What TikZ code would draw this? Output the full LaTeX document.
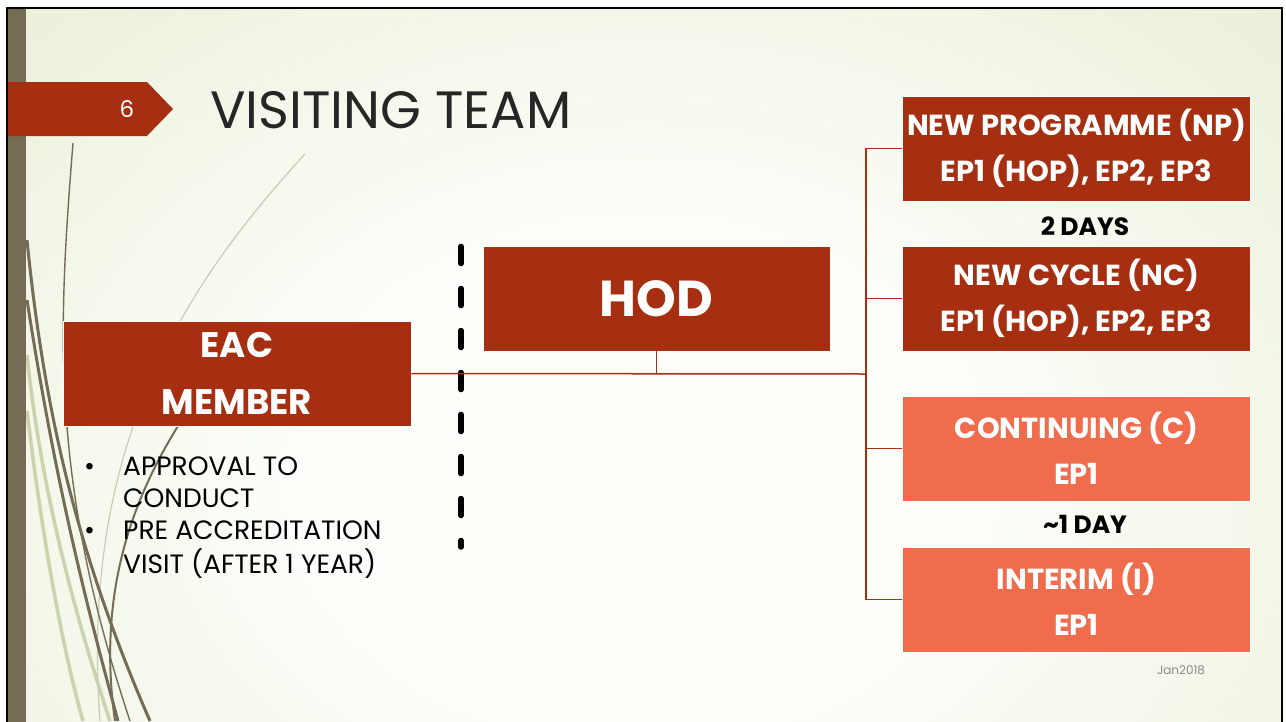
\documentclass[tikz,border=0pt]{standalone}
\usepackage{fontspec}
\setmainfont{Poppins}
\definecolor{hodred}{HTML}{A52F10}
\definecolor{salmon}{HTML}{EF6C4C}
\definecolor{barbrown}{HTML}{756C55}
\definecolor{bgout}{HTML}{DCE5C1}
\definecolor{bgin}{HTML}{FDFEFA}
\definecolor{paleline}{HTML}{CAD3AC}
\definecolor{grayline}{HTML}{C8CCB4}
\definecolor{titlegray}{HTML}{262626}
\definecolor{dategray}{HTML}{8C8C8C}
\pgfdeclareradialshading{bgshade}{\pgfpoint{0bp}{0bp}}{color(0bp)=(bgin); color(12bp)=(bgin); color(48bp)=(bgout)}
\tikzset{
  box/.style={rectangle, draw=white, line width=0.8pt, inner sep=0pt,
    minimum width=348pt, minimum height=105pt, text=white, align=center},
  darkbox/.style={box, fill=hodred},
  lightbox/.style={box, fill=salmon},
  conn/.style={draw=hodred, line width=1.5pt},
  divider/.style={draw=black, line width=5.5pt, line cap=round, dash pattern=on 17pt off 25pt},
  deco/.style={draw=barbrown},
}
\newcommand\rboxfont{\bfseries\fontsize{29}{46}\selectfont}
\newcommand\dayfont{\bfseries\fontsize{25}{28}\selectfont}
\begin{document}
\begin{tikzpicture}[x=1pt,y=-1pt]
\useasboundingbox (0,0) rectangle (1286,721);
\fill[white] (0,0) rectangle (1286,721);
\begin{scope}
\clip (7,8) rectangle (1282,730);
\fill[bgout] (7,8) rectangle (1282,730);
\path[shading=bgshade] (-60,-40) rectangle (1340,1000);
% decorative curves
\draw[paleline, line width=3.5pt] (27,355) .. controls (40,480) and (70,600) .. (110,721);
\draw[paleline, line width=3.5pt] (27,411) .. controls (40,520) and (60,640) .. (83,721);
\draw[grayline, line width=1.2pt] (305,154) .. controls (180,290) and (80,450) .. (100,721);
\draw[deco, line width=1.4pt] (73,143) .. controls (58,330) and (50,480) .. (130,721);
\draw[deco, line width=3pt] (27,240) .. controls (45,420) and (80,560) .. (150,721);
\draw[deco, line width=3pt] (27,300) .. controls (55,480) and (85,600) .. (118,721);
\draw[deco, line width=2pt] (195,400) .. controls (140,480) and (95,580) .. (115,721);
\fill[barbrown] (8,8) rectangle (26,730);
\end{scope}
\draw[black, line width=2pt] (7,8) -- (7,730);
\draw[black, line width=2pt] (6,8) -- (1283,8);
\draw[black, line width=2pt] (1282,8) -- (1282,730);
% slide number badge
\fill[hodred] (8,82) -- (147,82) -- (173,109) -- (147,136) -- (8,136) -- cycle;
\node[text=white, font=\fontsize{23}{28}\selectfont, inner sep=0pt] (num) at (127,109) {6};
\node[anchor=base west, text=titlegray, font=\fontsize{52.5}{60}\selectfont, inner sep=0pt] (title) at (210,128) {VISITING TEAM};
% divider
\coordinate (dT) at (461,246.5);
\coordinate (dB) at (461,547);
\draw[divider] (dT) -- (dB);
% boxes
\node[darkbox, font=\bfseries\fontsize{35.5}{57}\selectfont] (eac) at (237,373.5) {EAC\\MEMBER};
\node[darkbox, minimum width=347pt, font=\bfseries\fontsize{50.5}{56}\selectfont] (hod) at (656.5,298.5) {HOD};
\node[darkbox, font=\rboxfont] (np) at (1076.5,148.5) {NEW PROGRAMME (NP)\\EP1 (HOP), EP2, EP3};
\node[darkbox, font=\rboxfont] (nc) at (1076.5,298.5) {NEW CYCLE (NC)\\EP1 (HOP), EP2, EP3};
\node[lightbox, font=\rboxfont] (cont) at (1076.5,448.5) {CONTINUING (C)\\EP1};
\node[lightbox, font=\rboxfont] (interim) at (1076.5,599.5) {INTERIM (I)\\EP1};
\node[font=\dayfont, inner sep=0pt] (d2) at (1085,226) {2 DAYS};
\node[font=\dayfont, inner sep=0pt] (d1) at (1085,524) {\textasciitilde 1 DAY};
% connectors
\coordinate (jL) at (866,374);
\draw[conn] (eac.east) -- (jL);
\draw[conn] (hod.south) -- (hod.south |- jL);
\draw[conn] (np.west) -| (jL);
\draw[conn] (nc.west) -| (jL);
\draw[conn] (cont.west) -| (jL);
\draw[conn] (interim.west) -| (jL);
% bullets
\node[anchor=base west, inner sep=0pt, font=\fontsize{26.5}{32}\selectfont] (bul) at (84,475)
  {\begin{tabular}[t]{@{}p{39pt}@{}l@{}}\textbullet & APPROVAL TO\\ & CONDUCT\\ \textbullet & PRE ACCREDITATION\\ & VISIT (AFTER 1 YEAR)\end{tabular}};
\node[text=dategray, font=\fontsize{12}{14}\selectfont, inner sep=0pt] (date) at (1181,670) {Jan2018};
\end{tikzpicture}
\end{document}
